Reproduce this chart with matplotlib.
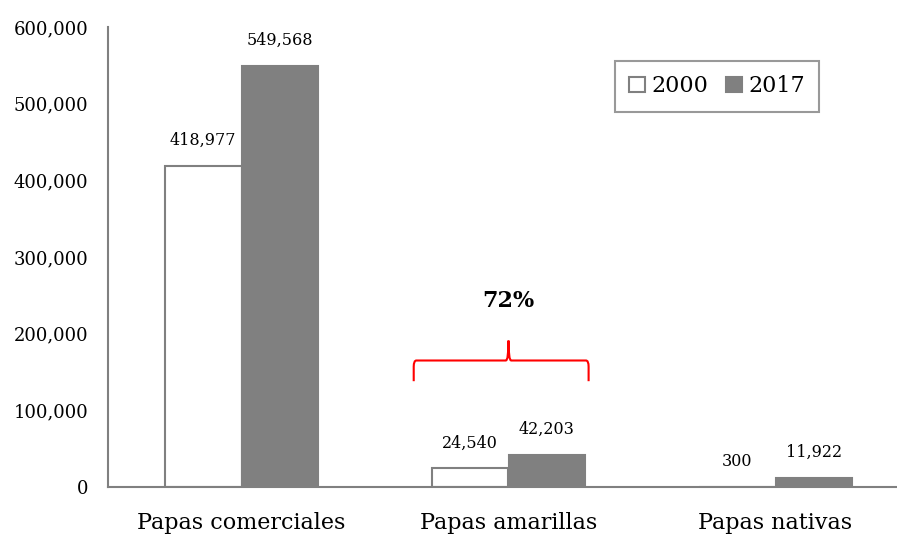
import numpy as np
import matplotlib.pyplot as plt
from matplotlib.path import Path
from matplotlib.patches import PathPatch
from matplotlib.ticker import FuncFormatter

categories = ['Papas comerciales', 'Papas amarillas', 'Papas nativas']
values_2000 = [418977, 24540, 300]
values_2017 = [549568, 42203, 11922]
series_names = ['2000', '2017']
growth_label = '72%'

plt.rcParams['font.family'] = ['DejaVu Serif']
grey = '#808080'

fig = plt.figure(figsize=(8.97, 5.34), dpi=100)
ax = fig.add_axes([108 / 897, 47 / 534, 801 / 897, 460 / 534])

x = np.arange(len(categories))
w = 0.287
b1 = ax.bar(x - w / 2, values_2000, w, color='white', edgecolor=grey, linewidth=1.5, label=series_names[0])
b2 = ax.bar(x + w / 2, values_2017, w, color=grey, edgecolor=grey, linewidth=1.5, label=series_names[1])

for bars, vals in ((b1, values_2000), (b2, values_2017)):
    for r, v in zip(bars, vals):
        ax.annotate(f'{v:,}', (r.get_x() + r.get_width() / 2, v), xytext=(0, 12),
                    textcoords='offset points', ha='center', va='bottom', fontsize=11.5)

ax.set_xlim(-0.5, 2.5)
ax.set_ylim(0, 600000)
ax.set_yticks(np.arange(0, 600001, 100000))
ax.yaxis.set_major_formatter(FuncFormatter(lambda v, p: f'{int(v):,}'))
ax.set_xticks(x)
ax.set_xticklabels(categories, fontsize=16)
ax.tick_params(axis='y', labelsize=13, length=0, pad=14)
ax.tick_params(axis='x', length=0, pad=18)
for s in ('top', 'right'):
    ax.spines[s].set_visible(False)
for s in ('left', 'bottom'):
    ax.spines[s].set_color(grey)
    ax.spines[s].set_linewidth(1.5)

# curly bracket over the second group
xl, xr, xc = 1 - 0.355, 1 + 0.3, 1
yb, ym, yt = 138000, 165000, 191000
r = 0.01
verts = [(xl, yb), (xl, ym - 8000), (xl, ym), (xl + r, ym),
         (xc - r, ym), (xc, ym), (xc, yt),
         (xc, ym), (xc + r, ym), (xr - r, ym),
         (xr, ym), (xr, ym - 8000), (xr, yb)]
codes = [Path.MOVETO, Path.LINETO, Path.CURVE3, Path.CURVE3,
         Path.LINETO, Path.CURVE3, Path.CURVE3,
         Path.CURVE3, Path.CURVE3, Path.LINETO,
         Path.CURVE3, Path.CURVE3, Path.LINETO]
ax.add_patch(PathPatch(Path(verts, codes), facecolor='none', edgecolor='red', linewidth=1.5))
ax.text(xc, 242000, growth_label, ha='center', va='center', fontsize=16, fontweight='bold')

leg = ax.legend(loc='upper left', bbox_to_anchor=(500 / 801, 1 - 27 / 460), ncol=2, fontsize=16,
                frameon=True, fancybox=False, handlelength=0.7, handleheight=0.7,
                handletextpad=0.3, columnspacing=0.8, borderpad=0.65, borderaxespad=0.3)
leg.get_frame().set_edgecolor(grey)
leg.get_frame().set_linewidth(1.5)

fig.savefig('out.png', dpi=100)
